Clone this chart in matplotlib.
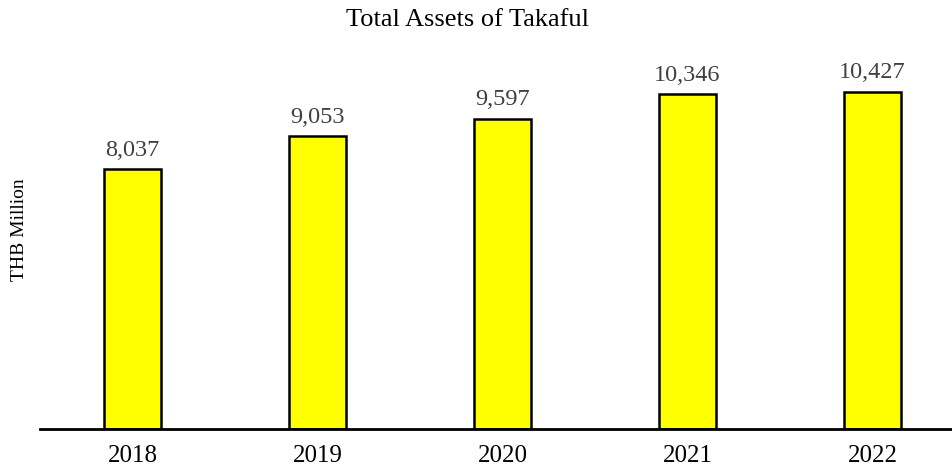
import matplotlib
matplotlib.use("Agg")
import matplotlib.pyplot as plt

years = ["2018", "2019", "2020", "2021", "2022"]
assets = [8037, 9053, 9597, 10346, 10427]
value_labels = ["8,037", "9,053", "9,597", "10,346", "10,427"]

plt.rcParams['font.family'] = ['Liberation Serif', 'DejaVu Serif']

W, H = 953, 466
fig = plt.figure(figsize=(W / 100, H / 100), dpi=100)
left, right, bottom, top = 40, 953, 429, 60
ax = fig.add_axes([left / W, 1 - bottom / H, (right - left) / W, (bottom - top) / H])

x = list(range(len(years)))
bars = ax.bar(x, assets, width=0.31, color="#FFFF00", edgecolor="black", linewidth=1.8, zorder=2)
for xi, v, lab in zip(x, assets, value_labels):
    ax.annotate(lab, (xi, v), xytext=(0, 6), textcoords="offset points",
                ha="center", va="bottom", fontsize=17.5, color="#404040")

spacing = 185.0
ax.set_xlim(-0.5, -0.5 + (right - left) / spacing)
ax.set_ylim(0, (bottom - top) / 0.03235)
ax.set_xticks(x)
ax.set_xticklabels(years, fontsize=18)
ax.set_yticks([])
ax.tick_params(axis='x', length=0, pad=11.5)
for s in ["top", "right", "left"]:
    ax.spines[s].set_visible(False)
ax.spines["bottom"].set_linewidth(2)
ax.spines["bottom"].set_zorder(3)

fig.text(20 / W, 1 - 230 / H, "THB Million", rotation=90, ha="center", va="center", fontsize=14)
fig.text(468 / W, 1 - 20 / H, "Total Assets of Takaful", ha="center", va="center", fontsize=19)

fig.savefig("out.png", dpi=100)
